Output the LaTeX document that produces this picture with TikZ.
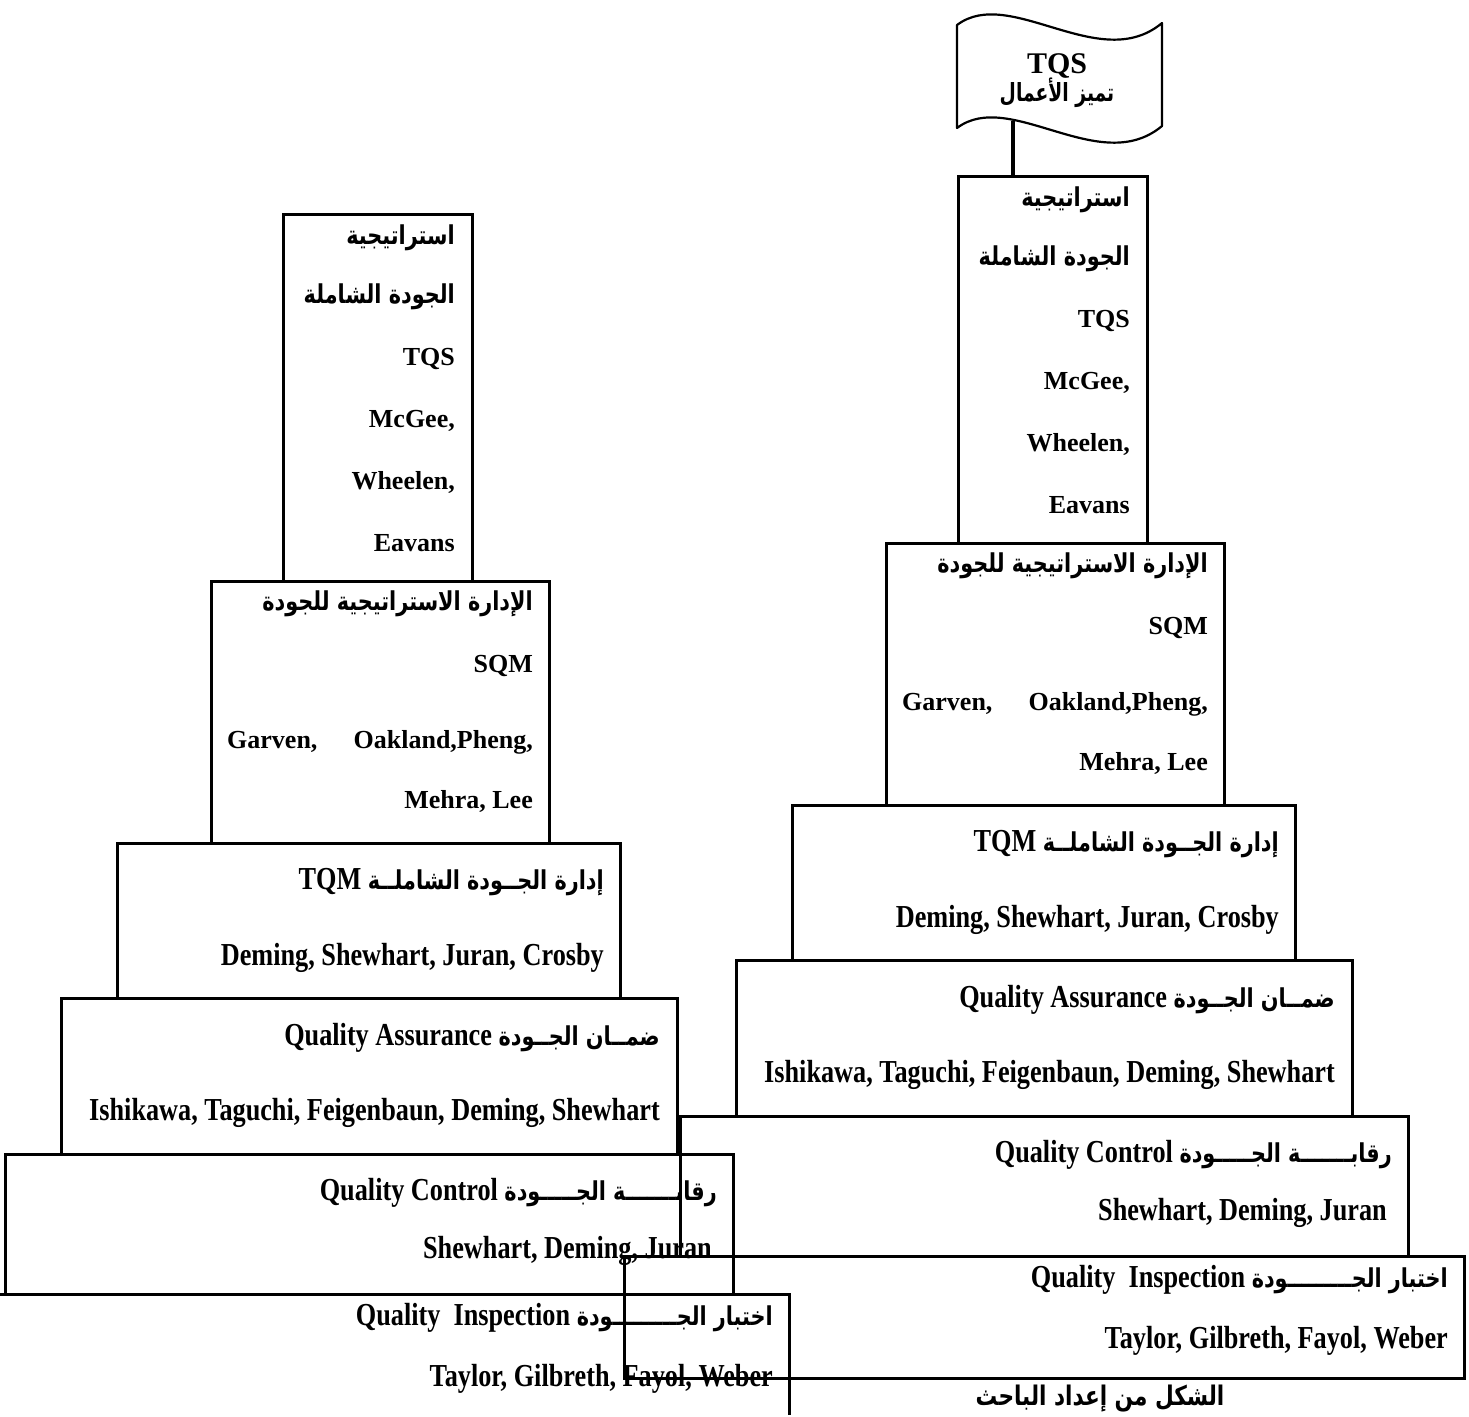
\documentclass[tikz,border=0pt]{standalone}
\usepackage{fontspec}
\setmainfont{Liberation Serif}
\newfontfamily\serifcond[FakeStretch=0.82]{Liberation Serif}
\newfontfamily\arabicfont[Script=Arabic, FakeStretch=0.8]{DejaVu Sans}
\newfontfamily\arabicnarrow[Script=Arabic, FakeStretch=0.75]{DejaVu Sans}
\TeXXeTstate=1
% fonts of the upper (wide) and lower (condensed) boxes
\newcommand{\upl}{\fontsize{26}{30}\selectfont\bfseries}
\newcommand{\lol}{\serifcond\fontsize{32}{36}\selectfont\bfseries}
\newcommand{\upa}{\arabicfont\fontsize{26}{30}\selectfont\bfseries}
\newcommand{\loa}{\arabicfont\fontsize{26}{30}\selectfont\bfseries}
\newcommand{\artext}[1]{\beginR #1\endR}

\tikzset{
  frame/.style={draw, line width=3pt, inner sep=0pt, outer sep=0pt,
                anchor=north west, rectangle},
  rline/.style={anchor=base east, inner sep=0pt},
  lline/.style={anchor=base west, inner sep=0pt},
  poleline/.style={line width=3.6pt},
  flagshape/.style={draw, line width=2.2pt, line join=round},
}

% one stack of six quality stages, drawn in the coordinates of the left copy
\newcommand{\qualitystack}{%
  \node[frame, minimum width=189pt, minimum height=367pt] (b1) at (283,214) {};
  \node[frame, minimum width=338pt, minimum height=262pt] (b2) at (211,581) {};
  \node[frame, minimum width=503pt, minimum height=155pt] (b3) at (117,843) {};
  \node[frame, minimum width=616pt, minimum height=156pt] (b4) at (61,998) {};
  \node[frame, minimum width=728pt, minimum height=140pt] (b5) at (5,1154) {};
  \node[frame, minimum width=840pt, minimum height=122pt] (b6) at (-51,1294) {};
  % strategy box
  \node[rline] (t11) at (455,244) {\upa\artext{استراتيجية}};
  \node[rline] (t12) at (455,303) {\upa\artext{الجودة الشاملة}};
  \node[rline] (t13) at (455,365) {\upl TQS};
  \node[rline] (t14) at (455,427) {\upl McGee,};
  \node[rline] (t15) at (455,489) {\upl Wheelen,};
  \node[rline] (t16) at (455,551) {\upl Eavans};
  % strategic quality management
  \node[rline] (t21) at (533,610) {\upa\artext{الإدارة الاستراتيجية للجودة}};
  \node[rline] (t22) at (533,672) {\upl SQM};
  \node[lline] (t23) at (227,748) {\upl Garven,};
  \node[rline] (t24) at (533,748) {\upl Oakland,Pheng,};
  \node[rline] (t25) at (533,808) {\upl Mehra, Lee};
  % total quality management
  \node[rline] (t31) at (604,889) {\lol TQM {\loa\artext{إدارة الجــودة الشاملــة}}};
  \node[rline] (t32) at (604,965) {\lol Deming, Shewhart, Juran, Crosby};
  % quality assurance
  \node[rline] (t41) at (660,1045) {\lol Quality Assurance {\loa\artext{ضمــان الجــودة}}};
  \node[rline] (t42) at (660,1120) {\lol Ishikawa, Taguchi, Feigenbaun, Deming, Shewhart};
  % quality control
  \node[rline] (t51) at (717,1200) {\lol Quality Control {\loa\artext{رقابـــــــة الجـــــودة}}};
  \node[rline] (t52) at (712,1258) {\lol Shewhart, Deming, Juran};
  % quality inspection
  \node[rline] (t61) at (773,1325) {\lol Quality\ \ Inspection {\loa\artext{اختبار الجـــــــــودة}}};
  \node[rline] (t62) at (773,1386) {\lol Taylor, Gilbreth, Fayol, Weber};
}

\begin{document}
\begin{tikzpicture}[x=1pt, y=-1pt]
  \useasboundingbox (0,0) rectangle (1469,1416);
  \clip (0,0) rectangle (1469,1414.5);

  % left stack
  \begin{scope}[name prefix=L-]
    \qualitystack
  \end{scope}

  % right stack, raised and moved to the right
  \begin{scope}[shift={(675,-38)}, name prefix=R-]
    \qualitystack
  \end{scope}

  % flag with the goal
  \draw[flagshape] (957,25) .. controls (1010,-15) and (1100,75) .. (1162,23)
        -- (1162,126) .. controls (1100,178) and (1010,88) .. (957,128) -- cycle;
  \node[anchor=base, inner sep=0pt] (flagtitle) at (1057,73)
        {\fontsize{30}{34}\selectfont\bfseries TQS};
  \node[anchor=base, inner sep=0pt] (flagsub) at (1057,101)
        {\arabicnarrow\fontsize{25}{28}\selectfont\bfseries\artext{تميز الأعمال}};
  \coordinate (flagfoot) at (1013,121);
  \draw[poleline] (flagfoot) -- (flagfoot |- R-b1.north);

  % source line
  \node[inner sep=0pt] (caption) at (1100,1399)
        {\arabicfont\fontsize{27}{30}\selectfont\bfseries\artext{الشكل من إعداد الباحث}};
\end{tikzpicture}
\end{document}
